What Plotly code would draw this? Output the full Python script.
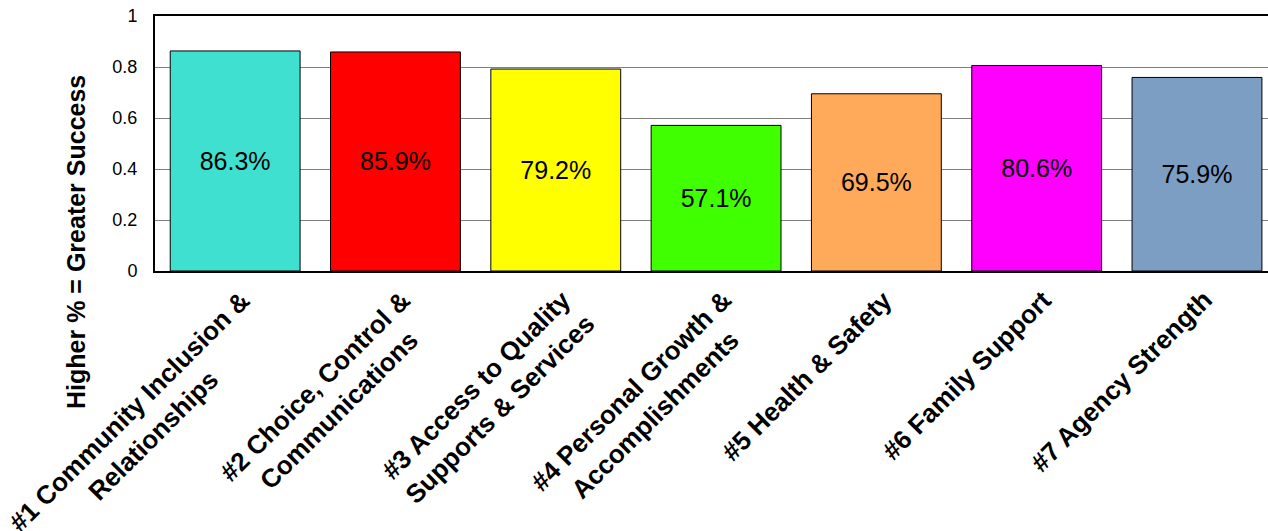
import plotly.graph_objects as go

categories = [
    "#1 Community Inclusion &<br>Relationships",
    "#2 Choice, Control &<br>Communications",
    "#3 Access to Quality<br>Supports & Services",
    "#4 Personal Growth &<br>Accomplishments",
    "#5 Health & Safety",
    "#6 Family Support",
    "#7 Agency Strength",
]
values = [0.863, 0.859, 0.792, 0.571, 0.695, 0.806, 0.759]
colors = ["#40E0D0", "#FF0000", "#FFFF00", "#40FF00", "#FFAA5A", "#FF00FF", "#7B9EC2"]
y_ticks = [0, 0.2, 0.4, 0.6, 0.8, 1]
y_ticklabels = ["0", "0.2", "0.4", "0.6", "0.8", "1"]

FONT = "Arial, Liberation Sans, sans-serif"
LABEL_SIZE = 26

x_idx = list(range(len(categories)))

fig = go.Figure()
fig.add_trace(go.Bar(
    x=x_idx,
    y=values,
    marker=dict(color=colors, line=dict(color="black", width=1)),
    texttemplate="%{y:.1%}",
    textposition="inside",
    insidetextanchor="middle",
    textangle=0,
    constraintext="none",
    textfont=dict(family=FONT, size=25, color="black"),
    hoverinfo="skip",
))

annotations = []
for i, cat in enumerate(categories):
    n_lines = cat.count("<br>") + 1
    H = n_lines * 1.3 * LABEL_SIZE
    annotations.append(dict(
        x=i, y=0, xref="x", yref="y",
        text=cat, showarrow=False, textangle=-45,
        xanchor="right", yanchor="top", align="center",
        xshift=0 + H * 0.707, yshift=-11,
        font=dict(family=FONT, size=LABEL_SIZE, color="black", weight="bold"),
    ))

annotations.append(dict(
    x=0, y=0.114, xref="paper", yref="paper",
    text="Higher % = Greater Success", showarrow=False, textangle=-90,
    xanchor="center", yanchor="middle", xshift=-79,
    font=dict(family=FONT, size=25, color="black", weight="bold"),
))

fig.update_layout(
    width=1268, height=531,
    margin=dict(l=155, r=0, t=16, b=260),
    paper_bgcolor="white", plot_bgcolor="white",
    bargap=0.19,
    showlegend=False,
    annotations=annotations,
    font=dict(family=FONT, color="black"),
)
fig.update_xaxes(
    range=[-0.5, 6.443], showticklabels=False, showgrid=False,
    showline=True, linecolor="black", linewidth=2, mirror=True,
    ticks="", zeroline=False,
)
fig.update_yaxes(
    range=[0, 1], tickvals=y_ticks, ticktext=y_ticklabels,
    showgrid=True, gridcolor="#808080", gridwidth=1,
    showline=True, linecolor="black", linewidth=2,
    ticks="", zeroline=False, ticklabelstandoff=12,
    tickfont=dict(family=FONT, size=18, color="black"),
)

fig.write_html("out.html")
